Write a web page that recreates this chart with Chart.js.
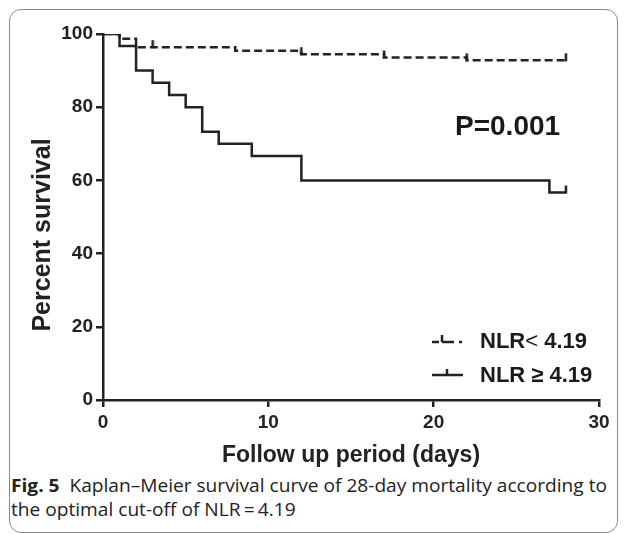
<!DOCTYPE html>
<html lang="en">
<head>
<meta charset="UTF-8">
<title>Kaplan-Meier NLR</title>
<script src="https://cdn.jsdelivr.net/npm/chart.js@4.4.1/dist/chart.umd.min.js"></script>
<style>
  body { margin: 0; background: #fff; font-family: "Liberation Sans", Arial, sans-serif; }
  #wrap { position: relative; width: 629px; height: 534px; overflow: hidden; }
  #frame { position: absolute; left: 9px; top: 9px; width: 607px; height: 522px;
           border: 1px solid #8a8a8a; border-radius: 12px; }
  #km { position: absolute; left: 0; top: 0; }
  .lbl { position: absolute; font-weight: bold; color: #1a1a1a; white-space: nowrap; }
  #pval { left: 455px; top: 110px; font-size: 28px; }
  .leg { left: 432px; font-size: 22px; }
  .leg svg { position: absolute; left: 0; top: 0; }
  .leg span.t { position: absolute; left: 48px; top: 0; }
  .lt { font-weight: normal; }
  #cap { position: absolute; left: 11px; top: 473px; font-family: "Open Sans", sans-serif;
         font-size: 18px; line-height: 24px; color: #222; }
  #cap div { white-space: nowrap; transform-origin: 0 0; }
  #cap b { font-weight: bold; }
</style>
</head>
<body>
<div id="wrap">
  <div id="frame"></div>
  <canvas id="km" width="629" height="470"></canvas>
  <div id="pval" class="lbl">P=0.001</div>
  <div class="lbl leg" style="top:328px;width:170px;height:28px;">
    <svg width="34" height="28"><line x1="0" y1="14" x2="31" y2="14" stroke="#222" stroke-width="2.5" stroke-dasharray="7 3 12 5 3"/><line x1="10" y1="7" x2="10" y2="14" stroke="#222" stroke-width="2.5"/></svg>
    <span class="t">NLR<span class="lt">&lt;</span> 4.19</span>
  </div>
  <div class="lbl leg" style="top:362px;width:170px;height:28px;">
    <svg width="34" height="28"><line x1="0" y1="13" x2="31" y2="13" stroke="#222" stroke-width="2.5"/><line x1="15" y1="7" x2="15" y2="13" stroke="#222" stroke-width="2.5"/></svg>
    <span class="t">NLR ≥ 4.19</span>
  </div>
  <div id="cap">
    <div id="cap1"><b>Fig. 5</b>&nbsp; Kaplan–Meier survival curve of 28-day mortality according to</div>
    <div id="cap2">the optimal cut-off of NLR&#8201;=&#8201;4.19</div>
  </div>
</div>

<script>
// survival steps
const lowDays = [0, 1, 2, 8, 12, 17, 22, 28];
const lowSurvival = [100, 98.7, 96.4, 95.4, 94.5, 93.6, 92.8, 92.8];
const lowCensorDays = [3, 12, 17, 22, 28];

const highDays = [0, 1, 2, 3, 4, 5, 6, 7, 9, 12, 27, 28];
const highSurvival = [100, 96.7, 90, 86.7, 83.3, 80, 73.3, 70, 66.7, 60, 56.7, 56.7];
const highCensorDays = [28];

const xTicks = [0, 10, 20, 30];
const yTicks = [0, 20, 40, 60, 80, 100];

const ink = '#222';

// squeeze caption lines to the narrow journal face
(function () {
  const l1 = document.getElementById('cap1'), l2 = document.getElementById('cap2');
  const k = 596 / l1.scrollWidth;
  l1.style.transform = 'scaleX(' + k + ')';
  l2.style.transform = 'scaleX(' + k + ')';
})();

function steps(days, surv) {
  return days.map((d, i) => ({x: d, y: surv[i]}));
}
// survival value at a given day (step function)
function survAt(days, surv, t) {
  let v = surv[0];
  for (let i = 0; i < days.length; i++) if (days[i] <= t) v = surv[i];
  return v;
}
function censorPts(days, surv, cdays) {
  return cdays.map(t => ({x: t, y: survAt(days, surv, t)}));
}

// little upward tick used for censored marks
const tick = document.createElement('canvas');
tick.width = 4; tick.height = 16;
(function () {
  const c = tick.getContext('2d');
  c.fillStyle = ink;
  c.fillRect(0.75, 1, 2.5, 8);
})();

const fontFam = '"Liberation Sans", Arial, sans-serif';
const fontTick = {family: fontFam, size: 19, weight: 'bold'};
const fontTitle = {family: fontFam, size: 23, weight: 'bold'};

// y title sits a bit lower than the plot centre in the original, so draw it by hand
const yTitle = {
  id: 'yTitle',
  afterDraw(chart) {
    const c = chart.ctx;
    c.save();
    c.translate(43, 235);
    c.rotate(-Math.PI / 2);
    c.font = 'bold 25px ' + fontFam;
    c.fillStyle = ink;
    c.textAlign = 'center';
    c.textBaseline = 'middle';
    c.fillText('Percent survival', 0, 0);
    c.restore();
  }
};

new Chart(document.getElementById('km'), {
  type: 'scatter',
  data: {
    datasets: [
      {
        label: 'NLR< 4.19',
        data: steps(lowDays, lowSurvival),
        showLine: true, stepped: true,
        borderColor: ink, borderWidth: 2.5, borderDash: [8, 4],
        pointRadius: 0
      },
      {
        label: 'NLR ≥ 4.19',
        data: steps(highDays, highSurvival),
        showLine: true, stepped: true,
        borderColor: ink, borderWidth: 2.5,
        pointRadius: 0
      },
      {
        label: 'censored low',
        data: censorPts(lowDays, lowSurvival, lowCensorDays),
        pointStyle: tick, pointRadius: 8
      },
      {
        label: 'censored high',
        data: censorPts(highDays, highSurvival, highCensorDays),
        pointStyle: tick, pointRadius: 8
      }
    ]
  },
  options: {
    responsive: false,
    animation: false,
    layout: {padding: {top: 34, right: 30, bottom: 0, left: 0}},
    plugins: {legend: {display: false}, tooltip: {enabled: false}},
    scales: {
      x: {
        type: 'linear', min: 0, max: 30,
        afterBuildTicks: s => { s.ticks = xTicks.map(v => ({value: v})); },
        afterFit: s => { s.height = 70; },
        border: {display: true, color: ink, width: 2.5},
        grid: {display: true, drawOnChartArea: false, drawTicks: true, tickLength: 7, color: ink, lineWidth: 2.5},
        ticks: {color: ink, font: fontTick, padding: 4, maxRotation: 0},
        title: {display: true, text: 'Follow up period (days)', color: ink, font: fontTitle, padding: {top: 0, bottom: 1}}
      },
      y: {
        type: 'linear', min: 0, max: 100,
        afterBuildTicks: s => { s.ticks = yTicks.map(v => ({value: v})); },
        afterFit: s => { s.width = 103; },
        border: {display: true, color: ink, width: 2.5},
        grid: {display: true, drawOnChartArea: false, drawTicks: true, tickLength: 7, color: ink, lineWidth: 2.5},
        ticks: {color: ink, font: fontTick, padding: 3}
      }
    }
  },
  plugins: [yTitle]
});
</script>
</body>
</html>
